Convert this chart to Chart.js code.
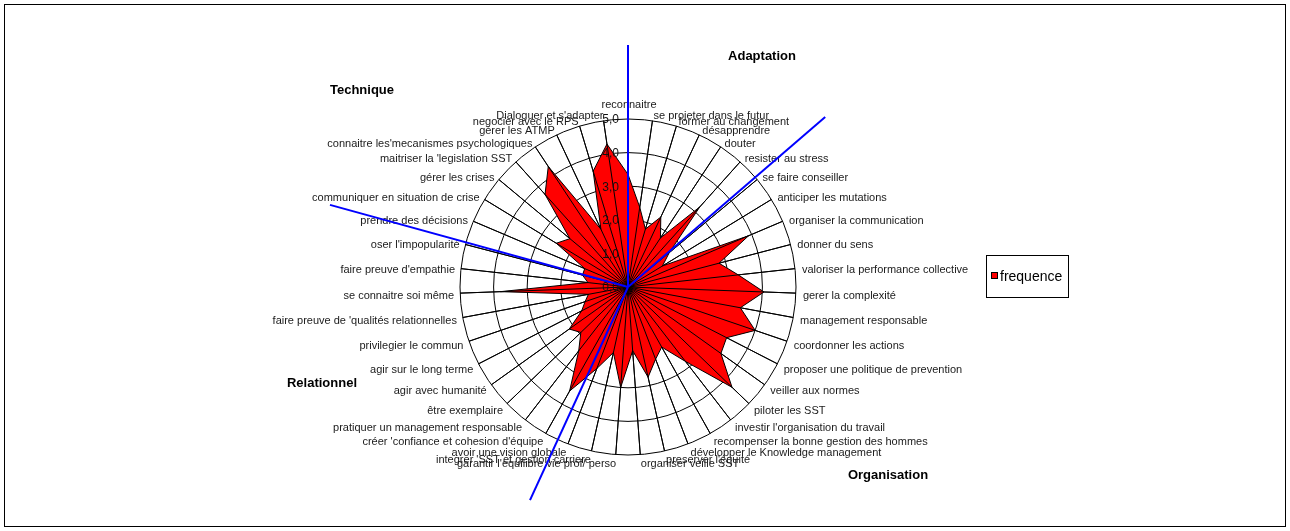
<!DOCTYPE html>
<html>
<head>
<meta charset="utf-8">
<script src="https://cdn.jsdelivr.net/npm/chart.js@4/dist/chart.umd.min.js"></script>
<style>
  html, body { margin: 0; padding: 0; background: #fff; }
  canvas { display: block; }
</style>
</head>
<body>
<canvas id="radarChart" width="1290" height="531"></canvas>
<script>
const categories = [
    'reconnaitre', 'se projeter dans le futur', 'former au changement', 'désapprendre', 'douter',
    'resister au stress', 'se faire conseiller', 'anticiper les mutations', 'organiser la communication',
    'donner du sens', 'valoriser la performance collective', 'gerer la complexité', 'management responsable',
    'coordonner les actions', 'proposer une politique de prevention', 'veiller aux normes', 'piloter les SST',
    "investir l'organisation du travail", 'recompenser la bonne gestion des hommes',
    'développer le Knowledge management', "preserver l'équité", 'organiser veille SST',
    "garantir l'equilibre vie prof/ perso", "integrer 'SST et gestion carriere", 'avoir une vision globale',
    "créer 'confiance et cohesion d'équipe", 'pratiquer un management responsable', 'être exemplaire',
    'agir avec humanité', 'agir sur le long terme', 'privilegier le commun',
    "faire preuve de 'qualités relationnelles", 'se connaitre soi même', "faire preuve d'empathie",
    "oser l'impopularité", 'prendre des décisions', 'communiquer en situation de crise', 'gérer les crises',
    "maitriser la 'legislation SST", "connaitre les'mecanismes psychologiques", 'gérer les ATMP',
    'negocier avec le RPS', "Dialoguer et s'adapter"
];

const frequence = [
    3.35, 2.4, 1.8, 2.3, 1.75,
    3.2, 1.6, 1.2, 3.9,
    2.8, 3.3, 4.05, 3.4,
    4.0, 3.3, 3.4, 4.3,
    2.8, 2.05,
    2.3, 2.75, 1.9,
    3.0, 2.0, 2.6,
    3.55, 2.4, 1.95,
    2.15, 1.55, 1.35,
    1.2, 3.8, 1.2,
    1.4, 1.4, 2.5, 2.25,
    3.7, 4.3, 1.9,
    3.6, 4.3
];

const tickLabels = ['0,0', '1,0', '2,0', '3,0', '4,0', '5,0'];
const groupNames = ['Adaptation', 'Organisation', 'Relationnel', 'Technique'];

// blue separators between the groups: [category index, length in value units]
const separators = [[0, 7.2], [5.88, 7.75], [24.45, 6.98], [34.09, 9.2]];
// where the group names sit (pixels)
const groupSpots = [[762, 56], [888, 475], [322, 383], [362, 90]];

const overlay = {
    id: 'overlay',
    afterDatasetsDraw(chart) {
        const ctx = chart.ctx;
        const r = chart.scales.r;
        const n = categories.length;
        ctx.save();

        // spokes stay visible over the fill
        ctx.strokeStyle = '#000';
        ctx.lineWidth = 1;
        for (let i = 0; i < n; i++) {
            const p = r.getPointPosition(i, r.drawingArea);
            ctx.beginPath();
            ctx.moveTo(r.xCenter, r.yCenter);
            ctx.lineTo(p.x, p.y);
            ctx.stroke();
        }

        // tick labels, left of the vertical axis
        ctx.fillStyle = '#111';
        ctx.font = '12px "Liberation Sans", Arial, sans-serif';
        ctx.textAlign = 'right';
        ctx.textBaseline = 'middle';
        tickLabels.forEach((t, k) => {
            const d = r.getDistanceFromCenterForValue(k);
            ctx.fillText(t, r.xCenter - 9, r.yCenter - d + 1);
        });

        // category labels
        ctx.font = '11px "Liberation Sans", Arial, sans-serif';
        ctx.fillStyle = '#1a1a1a';
        for (let i = 0; i < n; i++) {
            const a = r.getIndexAngle(i);
            const p = r.getPointPosition(i, r.drawingArea + 7);
            const s = Math.sin(a);
            if (Math.abs(s) < 0.02) {
                ctx.textAlign = 'center';
                ctx.textBaseline = 'bottom';
                ctx.fillText(categories[i], p.x + 1, p.y - 2);
            } else {
                ctx.textAlign = s > 0 ? 'left' : 'right';
                ctx.textBaseline = 'middle';
                ctx.fillText(categories[i], p.x + (s > 0 ? 0 : 1), p.y + 2.5);
            }
        }

        // blue group separators
        ctx.strokeStyle = '#0000ff';
        ctx.lineWidth = 2;
        separators.forEach(([idx, len]) => {
            const p = r.getPointPosition(idx, r.getDistanceFromCenterForValue(len));
            ctx.beginPath();
            ctx.moveTo(r.xCenter, r.yCenter);
            ctx.lineTo(p.x, p.y);
            ctx.stroke();
        });
        ctx.restore();
    },
    afterDraw(chart) {
        const ctx = chart.ctx;
        ctx.save();
        // group names
        ctx.fillStyle = '#000';
        ctx.font = 'bold 13px "Liberation Sans", Arial, sans-serif';
        ctx.textAlign = 'center';
        ctx.textBaseline = 'middle';
        groupNames.forEach((g, i) => ctx.fillText(g, groupSpots[i][0], groupSpots[i][1]));

        // legend
        ctx.strokeStyle = '#000';
        ctx.lineWidth = 1;
        ctx.strokeRect(986.5, 255.5, 82, 42);
        ctx.fillStyle = '#ff0000';
        ctx.fillRect(991.5, 272.5, 6, 6);
        ctx.strokeRect(991.5, 272.5, 6, 6);
        ctx.fillStyle = '#000';
        ctx.font = '14px "Liberation Sans", Arial, sans-serif';
        ctx.textAlign = 'left';
        ctx.fillText(chart.data.datasets[0].label, 1000, 277);

        // outer frame
        ctx.strokeRect(4.5, 4.5, 1281, 522);
        ctx.restore();
    }
};

const ctx = document.getElementById('radarChart').getContext('2d');
new Chart(ctx, {
    type: 'radar',
    data: {
        labels: categories,
        datasets: [{
            label: 'frequence',
            data: frequence,
            backgroundColor: '#ff0000',
            borderColor: '#000',
            borderWidth: 1,
            fill: true,
            pointRadius: 0,
            tension: 0
        }]
    },
    options: {
        responsive: false,
        animation: false,
        layout: {
            padding: { left: 460, right: 494, top: 119, bottom: 75 }
        },
        scales: {
            r: {
                min: 0,
                max: 5,
                ticks: { stepSize: 1, display: false },
                pointLabels: { display: false },
                grid: { circular: true, color: '#000', lineWidth: 1 },
                angleLines: { color: '#000', lineWidth: 1 }
            }
        },
        plugins: {
            legend: { display: false },
            tooltip: { enabled: false }
        }
    },
    plugins: [overlay]
});
</script>
</body>
</html>
